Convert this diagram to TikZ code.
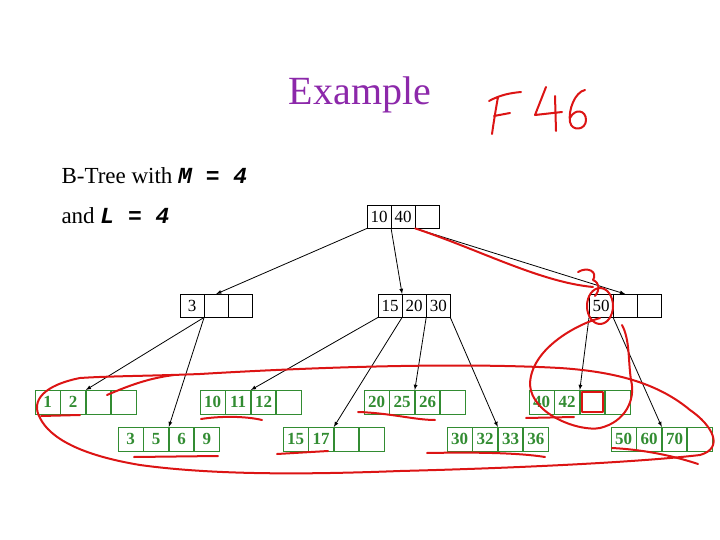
\documentclass[tikz,border=0pt]{standalone}
\usepackage{fontspec}
\setmainfont{Liberation Serif}
\setmonofont{Liberation Mono}
\definecolor{leafgreen}{RGB}{50,140,50}
\definecolor{pur}{RGB}{140,40,170}
\definecolor{ink}{RGB}{220,20,20}
\begin{document}
\begin{tikzpicture}[x=1pt,y=-1pt,
  icell/.style={draw,minimum width=23.7pt,minimum height=23pt,inner sep=0pt,font=\fontsize{17}{17}\selectfont,anchor=north west},
  lcell/.style={draw=leafgreen,text=leafgreen,line width=0.9pt,minimum width=24.5pt,minimum height=23.5pt,inner sep=0pt,font=\fontsize{17}{17}\selectfont\bfseries,anchor=north west},
  arr/.style={-latex,line width=0.8pt},
  pen/.style={ink,line width=2pt,line cap=round,line join=round}]
\useasboundingbox (0,0) rectangle (720,540);
\node[pur,font=\fontsize{40}{40}\selectfont] (title) at (360,95) {Example};
\node[anchor=west,font=\fontsize{23}{23}\selectfont] (t1) at (58,176) {B-Tree with \texttt{\textbf{\textit{M = 4}}}};
\node[anchor=west,font=\fontsize{23}{23}\selectfont] (t2) at (58,216) {and \texttt{\textbf{\textit{L = 4}}}};
% internal nodes
\newcommand{\inode}[6]{%
 \node[icell] (#1a) at (#2,#3) {#4};
 \node[icell] (#1b) at (#1a.north east) {#5};
 \node[icell] (#1c) at (#1b.north east) {#6};}
\inode{r}{367}{205}{10}{40}{}
\inode{s}{180}{294}{3}{}{}
\inode{m}{378}{294}{15}{20}{30}
\inode{n}{589}{294}{50}{}{}
% leaves
\newcommand{\leafn}[7]{%
 \node[lcell] (#1a) at (#2,#3) {#4};
 \node[lcell] (#1b) at (#1a.north east) {#5};
 \node[lcell] (#1c) at (#1b.north east) {#6};
 \node[lcell] (#1d) at (#1c.north east) {#7};}
\leafn{la}{35}{390}{1}{2}{}{}
\leafn{lb}{118}{427}{3}{5}{6}{9}
\leafn{lc}{200}{390}{10}{11}{12}{}
\leafn{ld}{283}{427}{15}{17}{}{}
\leafn{le}{364}{390}{20}{25}{26}{}
\leafn{lf}{447}{427}{30}{32}{33}{36}
\leafn{lg}{529}{390}{40}{42}{}{}
\leafn{lh}{611}{427}{50}{60}{70}{}
% arrows
\draw[arr] (ra.south west) -- (sb.north);
\draw[arr] (ra.south east) -- (mb.north west);
\draw[arr] (rb.south east) -- (nb.north);
\draw[arr] (sa.south east) -- (lab.north east);
\draw[arr] (sa.south east) -- (lbb.north east);
\draw[arr] (ma.south west) -- (lcb.north east);
\draw[arr] (ma.south east) -- (ldb.north east);
\draw[arr] (mb.south east) -- (leb.north east);
\draw[arr] (mc.south east) -- (lfb.north east);
\draw[arr] (na.south west) -- (lgb.north east);
\draw[arr] (na.south east) -- (lhb.north east);
% handwriting
\draw[pen] (492,134) .. controls (494,120) and (496,108) .. (498,97) (489,101) .. controls (500,95) and (510,93) .. (521,92) (494,116) -- (510,113);
\draw[pen] (546,87) -- (535,115) -- (562,112) (555,96) -- (556,131);
\draw[pen] (585,90) .. controls (575,92) and (568,110) .. (570,122) .. controls (572,132) and (586,130) .. (586,120) .. controls (586,110) and (575,108) .. (570,118);
\draw[pen] (rb.south east) .. controls (480,250) and (540,282) .. (593,287);
\draw[pen] (578,272) .. controls (588,266) and (598,272) .. (593,280) .. controls (600,283) and (600,290) .. (595,296);
\draw[pen] (600,306) ellipse (13pt and 18pt);
\draw[pen] (600,318) .. controls (575,325) and (530,350) .. (530,385) .. controls (532,415) and (580,432) .. (600,428) .. controls (625,422) and (636,400) .. (631,380) .. controls (628,360) and (630,340) .. (622,325);
\draw[pen] (lgc.north west) ++(2,2) rectangle ++(21,20);
\draw[pen] (107,395) .. controls (130,385) and (150,378) .. (174,375);
\draw[pen] (80,378) .. controls (45,385) and (30,400) .. (40,418) .. controls (50,438) and (80,455) .. (140,465) .. controls (220,476) and (320,474) .. (400,471) .. controls (520,468) and (640,462) .. (700,455) .. controls (725,448) and (712,425) .. (690,410) .. controls (660,385) and (620,372) .. (560,368) .. controls (450,362) and (300,368) .. (200,374) .. controls (150,376) and (110,376) .. (80,378);
\draw[pen] (41,416) -- (80,415);
\draw[pen] (134,457) -- (218,456);
\draw[pen] (201,419) .. controls (220,416) and (245,416) .. (262,420);
\draw[pen] (277,454) -- (328,451);
\draw[pen] (358,412) .. controls (390,413) and (415,420) .. (435,420);
\draw[pen] (427,453) .. controls (480,452) and (520,453) .. (545,457);
\draw[pen] (526,418) -- (574,417);
\draw[pen] (612,448) .. controls (650,450) and (680,458) .. (698,464);
\end{tikzpicture}
\end{document}
